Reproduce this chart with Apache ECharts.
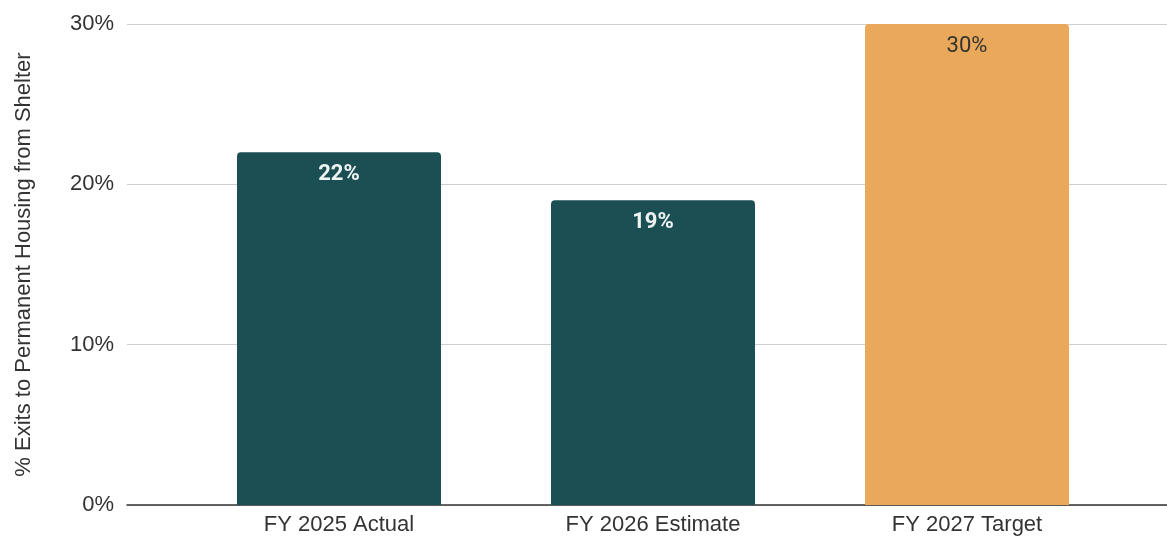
<!DOCTYPE html>
<html>
<head>
<meta charset="utf-8">
<script src="https://cdn.jsdelivr.net/npm/echarts@6/dist/echarts.min.js"></script>
<style>
  html, body { margin: 0; padding: 0; background: #fff; }
  #chart { width: 1167px; height: 540px; }
</style>
</head>
<body>
<div id="chart"></div>
<script>
// Share of shelter exits that go to permanent housing
const categories = ['FY 2025 Actual', 'FY 2026 Estimate', 'FY 2027 Target'];
const exitRates = [22, 19, 30];
const yTicks = [0, 10, 20, 30];
const yAxisTitle = '% Exits to Permanent Housing from Shelter';

const barColors = ['#1b4f54', '#1b4f54', '#eaa95a'];
const labelColors = ['#eef3f3', '#eef3f3', '#333333'];
const labelWeights = ['bold', 'bold', 'normal'];

const axisFont = 'Liberation Sans, Arial, sans-serif';

const chart = echarts.init(document.getElementById('chart'), null, { renderer: 'canvas' });

const valueAxisBase = {
  type: 'value',
  min: yTicks[0],
  max: yTicks[yTicks.length - 1],
  interval: 10
};

chart.setOption({
  animation: false,
  grid: [
    // frame grid: gridlines, tick labels, baseline
    { left: 127, right: 0, top: 24, bottom: 35 },
    // bar grid: narrower band layout for the bars
    { left: 182, right: 43, top: 24, bottom: 35 }
  ],
  xAxis: [
    {
      gridIndex: 0, type: 'value', min: 0, max: 1,
      axisLine: { show: true, onZero: false, lineStyle: { color: '#333', width: 1.5 } },
      axisTick: { show: false }, axisLabel: { show: false }, splitLine: { show: false }
    },
    {
      gridIndex: 1, type: 'category', data: categories,
      axisLine: { show: false }, axisTick: { show: false },
      axisLabel: { color: '#333', fontFamily: axisFont, fontSize: 22, margin: 9 }
    }
  ],
  yAxis: [
    Object.assign({}, valueAxisBase, {
      gridIndex: 0,
      name: yAxisTitle,
      nameLocation: 'middle',
      nameGap: 92,
      nameTextStyle: { color: '#333', fontSize: 22, fontFamily: axisFont },
      axisLine: { show: false }, axisTick: { show: false },
      axisLabel: {
        color: '#333', fontSize: 22, margin: 13, fontFamily: axisFont,
        formatter: v => v + '%'
      },
      splitLine: { lineStyle: { color: '#d0d0d0', width: 1 } }
    }),
    Object.assign({}, valueAxisBase, {
      gridIndex: 1, show: false, splitLine: { show: false }
    })
  ],
  series: [{
    type: 'bar',
    xAxisIndex: 1,
    yAxisIndex: 1,
    barWidth: 204,
    z: 1,
    data: exitRates.map((v, i) => ({
      value: v,
      itemStyle: { color: barColors[i], borderRadius: [4, 4, 0, 0] },
      label: { color: labelColors[i], fontWeight: labelWeights[i] }
    })),
    label: {
      show: true,
      position: 'insideTop',
      distance: 11,
      fontSize: 22,
      fontFamily: 'Roboto, sans-serif',
      formatter: p => p.value + '%'
    }
  }]
});
</script>
</body>
</html>
